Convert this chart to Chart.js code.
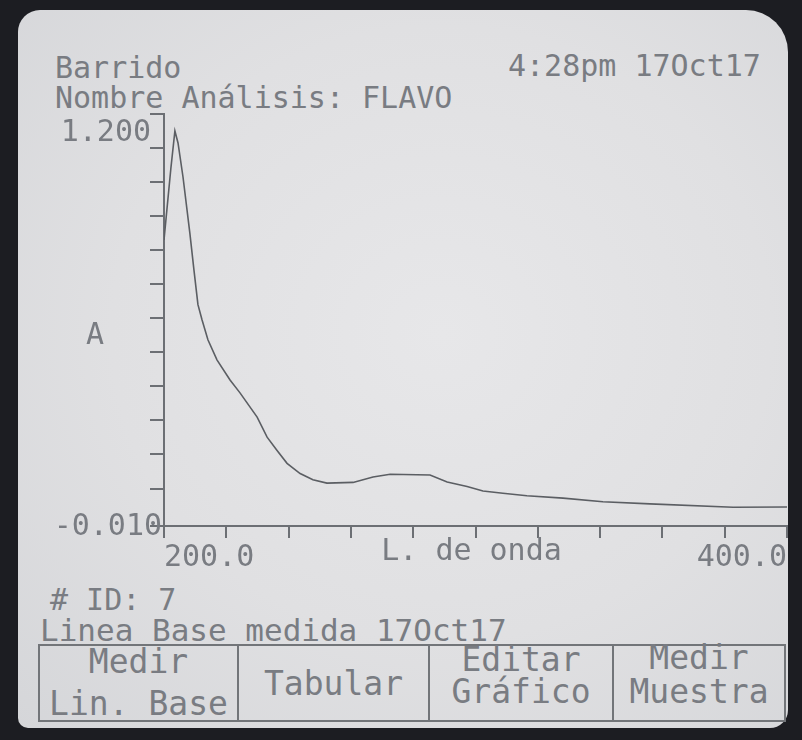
<!DOCTYPE html>
<html>
<head>
<meta charset="utf-8">
<script src="https://cdn.jsdelivr.net/npm/chart.js@4/dist/chart.umd.min.js"></script>
<style>
  html, body { margin: 0; padding: 0; }
  body { width: 802px; height: 740px; background: #1c1d22; position: relative; overflow: hidden;
         font-family: "DejaVu Sans Mono", "Liberation Mono", monospace; }
  #screen { position: absolute; left: 18px; top: 10px; width: 770px; height: 718px;
            border-radius: 22px 42px 18px 10px;
            background: radial-gradient(ellipse at 55% 45%, #e7e7e9 0%, #e0e0e2 55%, #d5d6d9 100%); }
  .t { position: absolute; color: #797c82; font-size: 30px; line-height: 36px; white-space: pre; }
  #chartWrap { position: absolute; left: 0; top: 0; width: 802px; height: 740px; }
  #tbl { position: absolute; left: 38px; top: 644px; width: 748px; height: 78px;
         border: 2px solid #727579; box-sizing: border-box; display: flex; }
  .cell { position: relative; height: 100%; border-right: 2px solid #727579; box-sizing: border-box;
          color: #797c82; font-size: 33px; }
  .cell:last-child { border-right: none; }
  .cell span { position: absolute; left: 0; right: 0; text-align: center; line-height: 36px; white-space: pre; }
</style>
</head>
<body>
<div id="screen"></div>
<div class="t" style="left:55px; top:50px;">Barrido</div>
<div class="t" style="left:508px; top:48px; width:252px; text-align:right;">4:28pm 17Oct17</div>
<div class="t" style="left:55px; top:80px;">Nombre Análisis: FLAVO</div>
<div class="t" style="left:50px; top:582px;"># ID: 7</div>
<div class="t" style="left:40px; top:612px; font-size:31px;">Linea Base medida 17Oct17</div>
<div id="tbl">
  <div class="cell" style="width:199px;"><span style="top:-2px;">Medir</span><span style="top:40px;">Lin. Base</span></div>
  <div class="cell" style="width:191px;"><span style="top:20px;">Tabular</span></div>
  <div class="cell" style="width:184px;"><span style="top:-4px;">Editar</span><span style="top:28px;">Gráfico</span></div>
  <div class="cell" style="flex:1;"><span style="top:-6px;">Medir</span><span style="top:28px;">Muestra</span></div>
</div>
<div id="chartWrap"><canvas id="c" width="802" height="740"></canvas></div>
<script>
// ---- data ----
const wavelength = [200, 202.2, 203.5, 204.5, 206.1, 208.3, 209.6, 210.9, 212.2, 214.1, 217.0, 221.2,
                    224.4, 229.9, 233.1, 236.3, 239.5, 243.7, 247.8, 252.3, 260.7, 267.1, 272.6, 285.4,
                    290.9, 297.3, 302.4, 308.8, 316.5, 328.1, 340.9, 356.0, 382.7, 400];
const absorbance = [0.83, 1.04, 1.15, 1.115, 1.015, 0.85, 0.743, 0.64, 0.596, 0.537, 0.478, 0.419,
                    0.381, 0.310, 0.251, 0.212, 0.174, 0.144, 0.126, 0.116, 0.118, 0.134, 0.142, 0.140,
                    0.119, 0.106, 0.093, 0.086, 0.079, 0.072, 0.061, 0.055, 0.045, 0.046];
const xMin = 200, xMax = 400, xStep = 20;
const xTickValues = [200, 400];
const xTickLabels = ['200.0', '400.0'];
const yTicks = [-0.01, 0.1, 0.2, 0.3, 0.4, 0.5, 0.6, 0.7, 0.8, 0.9, 1.0, 1.1, 1.2];
const yTickLabels = ['-0.010', '', '', '', '', '', '', '', '', '', '', '', '1.200'];
const xTitle = 'L. de onda';
const yTitle = 'A';

const TEXT = '#797c82';
const AXIS = '#6c6f74';
const FONT = '"DejaVu Sans Mono", "Liberation Mono", monospace';

const axisText = {
  id: 'axisText',
  afterDraw(chart) {
    const {ctx, chartArea: a, scales: {x, y}} = chart;
    ctx.save();
    ctx.font = '30px ' + FONT;
    ctx.fillStyle = TEXT;
    yTicks.forEach((v, i) => {
      const lab = yTickLabels[i];
      if (!lab) return;
      const py = y.getPixelForValue(v);
      ctx.textAlign = 'right';
      if (i === yTicks.length - 1) { ctx.textBaseline = 'top'; ctx.fillText(lab, a.left - 13, py + 4); }
      else { ctx.textBaseline = 'middle'; ctx.fillText(lab, a.left - 2, py + 1); }
    });
    ctx.textBaseline = 'middle';
    xTickValues.forEach((v, i) => {
      const px = x.getPixelForValue(v);
      ctx.textAlign = v === xMin ? 'left' : (v === xMax ? 'right' : 'center');
      ctx.fillText(xTickLabels[i], px, a.bottom + 32);
    });
    ctx.textAlign = 'center';
    ctx.fillText(yTitle, a.left - 69, a.top + (a.bottom - a.top) * 0.54);
    ctx.fillText(xTitle, (a.left + a.right) / 2 - 4, a.bottom + 26);
    ctx.restore();
  }
};

new Chart(document.getElementById('c'), {
  type: 'line',
  data: {
    datasets: [{
      data: wavelength.map((w, i) => ({x: w, y: absorbance[i]})),
      borderColor: '#5b5e63',
      borderWidth: 1.6,
      pointRadius: 0,
      tension: 0,
      fill: false
    }]
  },
  options: {
    responsive: false,
    animation: false,
    devicePixelRatio: 1,
    layout: { padding: { top: 114, right: 15, left: 0, bottom: 0 } },
    plugins: { legend: { display: false }, tooltip: { enabled: false } },
    scales: {
      x: {
        type: 'linear', min: xMin, max: xMax,
        afterFit: s => { s.height = 740 - 526; },
        border: { color: AXIS, width: 2 },
        grid: { drawOnChartArea: false, drawTicks: true, tickLength: 12, color: AXIS, lineWidth: 2 },
        ticks: { stepSize: xStep, autoSkip: false, maxRotation: 0, display: false }
      },
      y: {
        type: 'linear', min: yTicks[0], max: yTicks[yTicks.length - 1],
        afterBuildTicks: s => { s.ticks = yTicks.map(v => ({value: v})); },
        afterFit: s => { s.width = 164; },
        border: { color: AXIS, width: 2 },
        grid: { drawOnChartArea: false, drawTicks: true, tickLength: 14, color: AXIS, lineWidth: 2 },
        ticks: { display: false }
      }
    }
  },
  plugins: [axisText]
});
</script>
</body>
</html>
